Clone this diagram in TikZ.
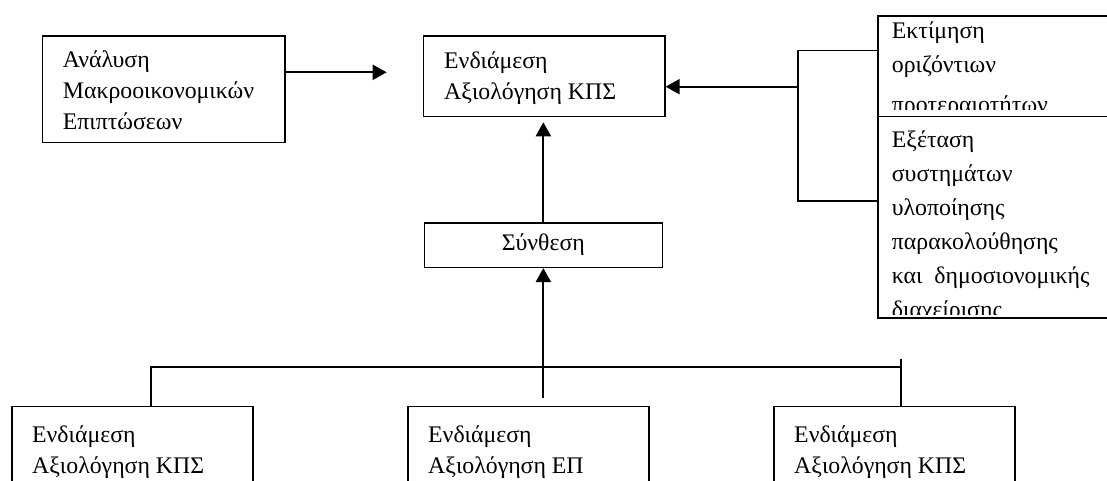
\documentclass[tikz,border=0pt]{standalone}
\usepackage{fontspec}
\setmainfont{Liberation Serif}
\usetikzlibrary{arrows.meta}
\begin{document}
\begin{tikzpicture}[x=1pt,y=-1pt,
  boxst/.style={draw, line width=1.6pt, inner sep=0pt, anchor=north west, fill=white},
  txt/.style={anchor=base west, inner sep=0pt, align=left, font=\fontsize{23.8}{31}\selectfont},
  txtr/.style={anchor=base west, inner sep=0pt, align=left, font=\fontsize{23.8}{34}\selectfont},
  conn/.style={line width=1.6pt},
  arr/.style={line width=2.2pt, -{Triangle[length=14pt,width=15pt]}}]
\useasboundingbox (0,0) rectangle (1107,481);
\fill[white] (0,0) rectangle (1107,481);
\clip (0,0) rectangle (1107,481);
% top row
\node[boxst, minimum width=242.3pt, minimum height=106.7pt] (ana) at (41.7,35) {};
\node[txt] (anat) at (62.7,130) {Ανάλυση\\Μακροοικονομικών\\Επιπτώσεων};
\node[boxst, minimum width=241.3pt, minimum height=80.7pt] (mid) at (422.7,35) {};
\node[txt] (midt) at (444,100) {Ενδιάμεση\\Αξιολόγηση ΚΠΣ};
% right boxes
\node[boxst, minimum width=260pt, minimum height=100.7pt] (est) at (877,15) {};
\begin{scope}
\clip (877,15) rectangle (1107,110);
\node[txtr] (estt) at (891.7,113) {Εκτίμηση\\οριζόντιων\\[6pt]προτεραιοτήτων};
\end{scope}
\node[boxst, minimum width=260pt, minimum height=201.6pt] (exe) at (877,115.7) {};
\begin{scope}
\clip (877,115.7) rectangle (1107,314);
\node[txtr] (exet) at (891.7,317) {Εξέταση\\συστημάτων\\υλοποίησης\\παρακολούθησης\\και\ \ δημοσιονομικής\\διαχείρισης};
\end{scope}
% synthesis
\node[draw, line width=1.6pt, inner sep=0pt, minimum width=238pt, minimum height=44.6pt, font=\fontsize{23.8}{31}\selectfont] (syn) at (543.35,245) {Σύνθεση};
% bottom boxes
\node[boxst, minimum width=241pt, minimum height=120pt] (b1) at (11,405.7) {};
\node[txt] (b1t) at (32,473.3) {Ενδιάμεση\\Αξιολόγηση ΚΠΣ};
\node[boxst, minimum width=241pt, minimum height=120pt] (b2) at (407,405.7) {};
\node[txt] (b2t) at (428,473.3) {Ενδιάμεση\\Αξιολόγηση ΕΠ};
\node[boxst, minimum width=241pt, minimum height=120pt] (b3) at (773,405.7) {};
\node[txt] (b3t) at (794,473.3) {Ενδιάμεση\\Αξιολόγηση ΚΠΣ};
% connectors
\coordinate (anaend) at (386.7,72.3);
\draw[arr] (ana.east |- anaend) -- (anaend);
\coordinate (brk) at (798,86.7);
\coordinate (brt) at (798,50.7);
\coordinate (brb) at (798,200.7);
\draw[conn] (brt -| est.west) -- (brt) -- (brb) -- (brb -| exe.west);
\draw[arr] (brk) -- (brk -| mid.east);
\draw[arr, shorten >=5pt] (syn.north) -- (syn.north |- mid.south);
\coordinate (hub) at (543.35,398);
\draw[arr] (hub) -- (syn.south);
\coordinate (hl) at (151,367);
\coordinate (hr) at (901,367);
\coordinate (hrt) at (901,359);
\draw[conn] (hl |- b1.north) -- (hl) -- (hr);
\draw[conn] (hrt) -- (hr |- b3.north);
\end{tikzpicture}
\end{document}
